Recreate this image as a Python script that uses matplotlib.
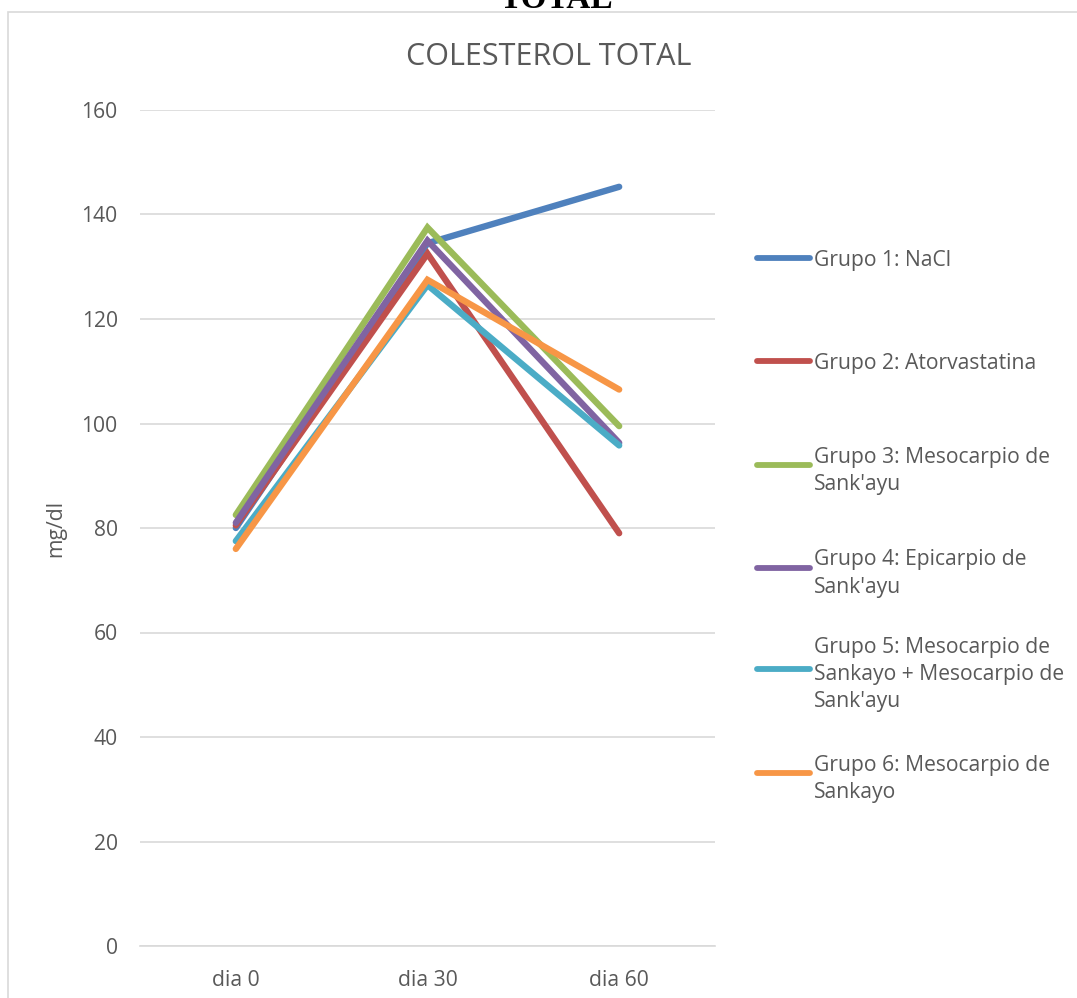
import matplotlib
matplotlib.use("Agg")
import matplotlib.pyplot as plt
from matplotlib.lines import Line2D
from matplotlib.patches import Rectangle

plt.rcParams['font.family'] = ['Open Sans', 'DejaVu Sans']

# colesterol total (mg/dl) por grupo
dias = ["dia 0", "dia 30", "dia 60"]
grupo1 = [80.0, 134.5, 145.3]
grupo2 = [80.5, 132.5, 79.0]
grupo3 = [82.5, 137.5, 99.5]
grupo4 = [81.0, 135.0, 96.3]
grupo5 = [77.5, 126.5, 95.8]
grupo6 = [76.0, 127.5, 106.5]

series = [grupo1, grupo2, grupo3, grupo4, grupo5, grupo6]
labels = [
    "Grupo 1: NaCl",
    "Grupo 2: Atorvastatina",
    "Grupo 3: Mesocarpio de\nSank'ayu",
    "Grupo 4: Epicarpio de\nSank'ayu",
    "Grupo 5: Mesocarpio de\nSankayo + Mesocarpio de\nSank'ayu",
    "Grupo 6: Mesocarpio de\nSankayo",
]
colors = ["#4F81BD", "#C0504D", "#9BBB59", "#8064A2", "#4BACC6", "#F79646"]

W, H = 1077, 998
fig = plt.figure(figsize=(W / 100, H / 100), dpi=100)
txt = "#595959"

# chart frame
fig.patches.append(Rectangle((8 / W, -0.1), 1.2, 1 - 12 / H + 0.1,
                             transform=fig.transFigure, facecolor="none",
                             edgecolor="#D9D9D9", linewidth=1.2, zorder=-1))
# heading of the page above the chart, cut off
fig.text(556 / W, 1 - 8 / H, "TOTAL", fontsize=24, fontweight="bold",
         family="Liberation Serif", ha="center", va="baseline", color="black")

ax = fig.add_axes([140 / W, 1 - 946 / H, 575 / W, 836 / H])
ax.set_facecolor("none")
x = range(len(dias))
for vals, c in zip(series, colors):
    ax.plot(x, vals, color=c, linewidth=4.6, solid_capstyle="round",
            solid_joinstyle="miter")

ax.set_xlim(-0.5, 2.5)
ax.set_ylim(0, 160)
ax.set_yticks(range(0, 161, 20))
ax.set_xticks(list(x))
ax.set_xticklabels(dias)
ax.grid(axis="y", color="#D9D9D9", linewidth=1.2)
ax.set_axisbelow(True)
for s in ["top", "right", "left"]:
    ax.spines[s].set_visible(False)
ax.spines["bottom"].set_color("#D9D9D9")
ax.spines["bottom"].set_linewidth(1.2)
ax.tick_params(axis="both", length=0, labelsize=15.2, labelcolor=txt)
ax.tick_params(axis="y", pad=16)
ax.tick_params(axis="x", pad=17)
ax.set_ylabel("mg/dl", fontsize=15.2, color=txt, labelpad=11)

fig.text(549 / W, 1 - 57 / H, "COLESTEROL TOTAL", fontsize=22, color=txt,
         ha="center", va="center")

# legend on the right, evenly spaced entries
ys = [258, 361, 465, 568, 669, 773]
for yy, lab, c in zip(ys, labels, colors):
    yf = 1 - yy / H
    fig.add_artist(Line2D([757 / W, 810 / W], [yf, yf], transform=fig.transFigure,
                          color=c, linewidth=4.2, solid_capstyle="round"))
    fig.text(814 / W, yf, lab, fontsize=15.2, color=txt, ha="left",
             va="center_baseline", linespacing=1.38)

fig.savefig("out.png", dpi=100)
